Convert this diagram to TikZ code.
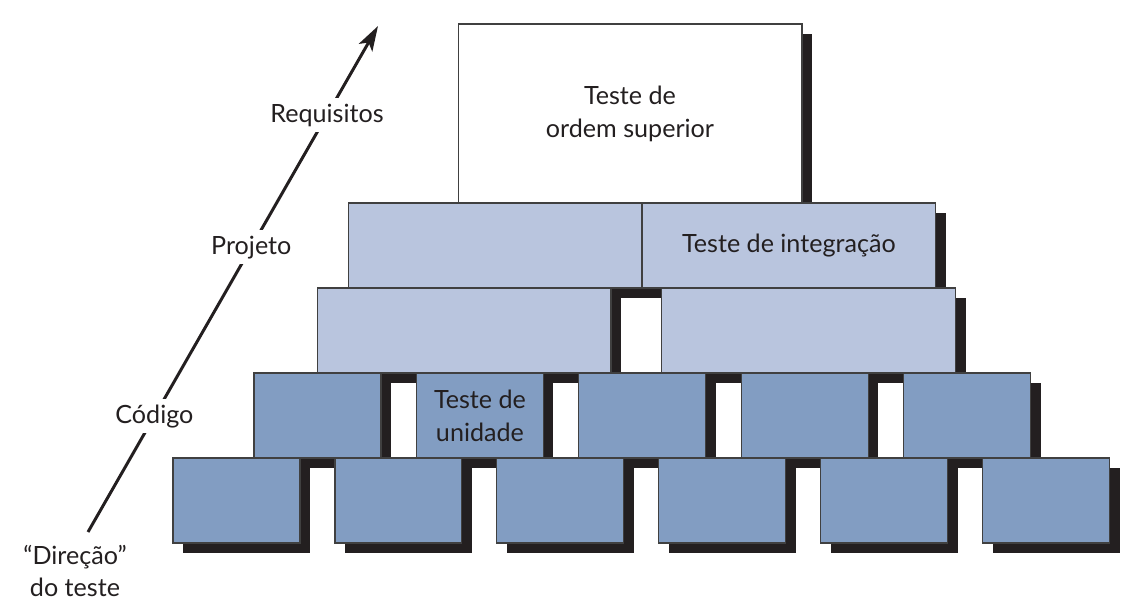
\documentclass[tikz,border=0pt]{standalone}
\usepackage{fontspec}
\setmainfont{Lato}
\usetikzlibrary{arrows.meta, positioning, shadows}
\definecolor{blococlaro}{RGB}{185, 197, 222}
\definecolor{blocoescuro}{RGB}{130, 157, 194}
\definecolor{sombra}{RGB}{35, 31, 32}
\definecolor{texto}{RGB}{35, 31, 32}
\tikzset{
  >=Stealth,
  setadirecao/.style={-{Stealth[length=5mm, width=3.1mm, inset=1.2mm]}, line width=1.7pt, sombra},
  blocosombra/.style={draw=black!75, line width=0.6pt, inner sep=0pt, outer sep=0pt, align=center, text=texto,
    drop shadow={shadow xshift=0.2cm, shadow yshift=-0.2cm, opacity=1, fill=sombra}}
}
\begin{document}
\begin{tikzpicture}[x=0.02cm, y=-0.02cm, font=\fontsize{14.3}{18.7}\selectfont,
    blocotopo/.style={blocosombra, fill=white, minimum width=6.88cm, minimum height=3.58cm},
    integ/.style={blocosombra, fill=blococlaro, minimum width=5.88cm, minimum height=1.7cm},
    unid/.style={blocosombra, fill=blocoescuro, minimum width=2.54cm, minimum height=1.7cm},
    rotulo/.style={fill=white, inner sep=3pt, text=texto}]
    \useasboundingbox (0,0) rectangle (1145,613);
    % Bloco do topo
    \node (topo) [blocotopo] at (630,113.5) {Teste de\\ordem superior};
    % Integração (duas camadas)
    \node (i1) [integ] at (495,245.5) {};
    \node (i2) [integ, right=0cm of i1] {Teste de integração};
    \node (j1) [integ] at (464,330.5) {};
    \node (j2) [integ, right=1.02cm of j1] {};
    % Unidade (camada superior)
    \node (u1) [unid] at (317.5,415.5) {};
    \node (u2) [unid, right=0.71cm of u1] {Teste de\\unidade};
    \node (u3) [unid, right=0.71cm of u2] {};
    \node (u4) [unid, right=0.71cm of u3] {};
    \node (u5) [unid, right=0.71cm of u4] {};
    % Unidade (camada da base)
    \node (b1) [unid] at (236.5,500.5) {};
    \node (b2) [unid, right=0.7cm of b1] {};
    \node (b3) [unid, right=0.7cm of b2] {};
    \node (b4) [unid, right=0.7cm of b3] {};
    \node (b5) [unid, right=0.7cm of b4] {};
    \node (b6) [unid, right=0.7cm of b5] {};
    % Seta da direção do teste
    \coordinate (base) at (88,532);
    \coordinate (ponta) at (378,26);
    \draw[setadirecao] (base) -- (ponta)
        node (cod) [rotulo, pos=0.229] {Código}
        node (proj) [rotulo, pos=0.563] {Projeto}
        node (req) [rotulo, pos=0.824] {Requisitos};
    \node (direcao) [align=center, text=texto] at (75,571) {“Direção”\\do teste};
\end{tikzpicture}
\end{document}
